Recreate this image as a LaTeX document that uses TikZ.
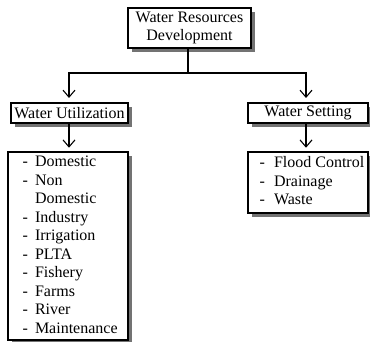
\documentclass[tikz,border=0pt]{standalone}
\usepackage{fontspec}
\setmainfont{Liberation Serif}
\usetikzlibrary{arrows.meta,shadows}
\begin{document}
\begin{tikzpicture}[x=1pt,y=-1pt,
  box/.style={draw=black, line width=1.5pt, fill=white, inner sep=0pt,
    drop shadow={shadow xshift=4pt, shadow yshift=-4pt, fill=black!55, opacity=1},
    font=\fontsize{16}{18}\selectfont, align=center},
  txt/.style={inner sep=0pt, anchor=north west, font=\fontsize{16}{18.5}\selectfont},
  arr/.style={line width=1.1pt, -{Straight Barb[length=7pt,width=12pt,line width=1.1pt]}},
  ln/.style={line width=1.1pt}]
\useasboundingbox (0,0) rectangle (370,342);
\node[box, minimum width=123pt, minimum height=40pt] (top) at (189.5,28) {Water Resources\\Development};
\node[box, minimum width=117pt, minimum height=20pt] (wu) at (69.5,113) {Water Utilization};
\node[box, minimum width=120pt, minimum height=20pt] (ws) at (308,113) {Water Setting};
\node[box, minimum width=120pt, minimum height=188pt] (ll) at (68,246) {};
\node[box, minimum width=120pt, minimum height=61pt] (rl) at (308,182.5) {};
\node[txt] (lt) at (22.5,153.5) {\begin{tabular}{@{}l@{\hspace{7pt}}l@{}}
-&Domestic\\ -&Non\\ &Domestic\\ -&Industry\\ -&Irrigation\\ -&PLTA\\ -&Fishery\\ -&Farms\\ -&River\\ -&Maintenance\end{tabular}};
\node[txt] (rt) at (259.5,154.5) {\begin{tabular}{@{}l@{\hspace{9pt}}l@{}}
-&Flood Control\\ -&Drainage\\ -&Waste\end{tabular}};
\coordinate (j) at (188,73);
\coordinate (wl) at (69,103);
\coordinate (wr) at (306,103);
\draw[ln] (top.south -| j) -- (j);
\draw[arr, shorten >=5pt] (j) -| (wl);
\draw[arr, shorten >=5pt] (j) -| (wr);
\draw[arr, shorten >=3.5pt] (wu.south -| wl) -- (ll.north -| wl);
\draw[arr, shorten >=3.5pt] (ws.south -| wr) -- (rl.north -| wr);
\end{tikzpicture}
\end{document}
